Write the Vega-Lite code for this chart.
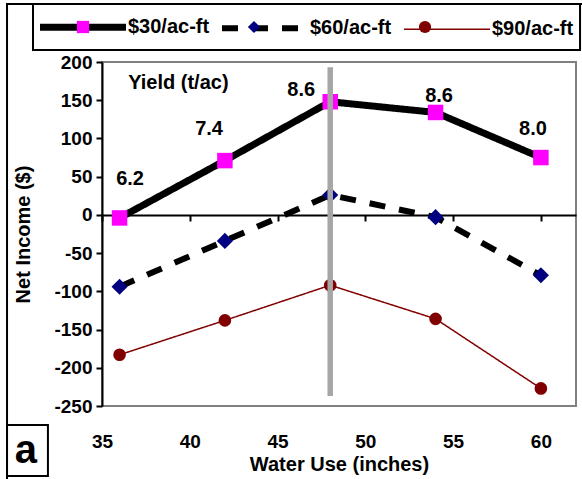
{
  "$schema": "https://vega.github.io/schema/vega-lite/v6.json",
  "width": 474,
  "height": 344,
  "autosize": {"type": "none"},
  "padding": {"left": 102, "top": 62, "right": 6, "bottom": 73},
  "background": "white",
  "config": {
    "font": "Liberation Sans",
    "view": {"stroke": "#808080", "strokeWidth": 2},
    "axis": {
      "labelFont": "Liberation Sans", "titleFont": "Liberation Sans",
      "labelFontWeight": "bold", "titleFontWeight": "bold",
      "labelColor": "black", "titleColor": "black",
      "grid": false, "domain": true, "ticks": true, "domainColor": "black", "tickColor": "black",
      "domainWidth": 2, "tickWidth": 2, "labelFlush": false, "labelOverlap": false
    },
    "axisX": {"offset": -191, "tickSize": 6, "labelPadding": 211, "labelFontSize": 19, "titleFontSize": 20, "titleY": 239, "titleBaseline": "top"},
    "axisY": {"tickSize": 6, "labelPadding": 4, "labelFontSize": 19, "titleFontSize": 20, "titlePadding": 20},
    "legend": {"labelFont": "Liberation Sans", "labelFontWeight": "bold", "labelFontSize": 20, "labelColor": "black"}
  },
  "datasets": {
    "income": [
      {"series": "$30/ac-ft", "water": 36, "income": -4},
      {"series": "$30/ac-ft", "water": 42, "income": 71},
      {"series": "$30/ac-ft", "water": 48, "income": 148},
      {"series": "$30/ac-ft", "water": 54, "income": 134},
      {"series": "$30/ac-ft", "water": 60, "income": 75},
      {"series": "$60/ac-ft", "water": 36, "income": -94},
      {"series": "$60/ac-ft", "water": 42, "income": -34},
      {"series": "$60/ac-ft", "water": 48, "income": 26},
      {"series": "$60/ac-ft", "water": 54, "income": -3},
      {"series": "$60/ac-ft", "water": 60, "income": -79},
      {"series": "$90/ac-ft", "water": 36, "income": -183},
      {"series": "$90/ac-ft", "water": 42, "income": -138},
      {"series": "$90/ac-ft", "water": 48, "income": -92},
      {"series": "$90/ac-ft", "water": 54, "income": -136},
      {"series": "$90/ac-ft", "water": 60, "income": -227}
    ],
    "yields": [
      {"label": "Yield (t/ac)", "water": 39.35, "income": 172},
      {"label": "6.2", "water": 36.6, "income": 47},
      {"label": "7.4", "water": 41.1, "income": 113},
      {"label": "8.6", "water": 46.35, "income": 163},
      {"label": "8.6", "water": 54.2, "income": 155},
      {"label": "8.0", "water": 59.55, "income": 112}
    ]
  },
  "layer": [
    {
      "data": {"name": "income"},
      "mark": {"type": "line", "strokeCap": "butt", "strokeJoin": "miter"},
      "encoding": {
        "x": {
          "field": "water", "type": "quantitative",
          "scale": {"domain": [35, 62], "nice": false, "zero": false},
          "axis": {"title": "Water Use (inches)", "values": [35, 40, 45, 50, 55, 60], "labelOverlap": false}
        },
        "y": {
          "field": "income", "type": "quantitative",
          "scale": {"domain": [-250, 200], "nice": false, "zero": false},
          "axis": {"title": "Net Income ($)", "values": [-250, -200, -150, -100, -50, 0, 50, 100, 150, 200], "labelOverlap": false, "labelExpr": "'' + datum.value"}
        },
        "stroke": {
          "field": "series", "type": "nominal",
          "scale": {"range": ["#000000", "#000000", "#800000"]},
          "legend": {
            "orient": "none", "legendX": -65.5, "legendY": -81.5, "direction": "horizontal",
            "columns": 3, "gridAlign": "all",
            "title": null, "padding": 0, "symbolType": "stroke", "symbolSize": 7396,
            "symbolStrokeWidth": 6, "labelOffset": -1.5, "columnPadding": 0,
            "encode": {"symbols": {"update": {"strokeWidth": {"signal": "(datum.value === '$90/ac-ft' ? 1.5 : (datum.value === '$60/ac-ft' ? 6 : 7))"}}}}
          }
        },
        "strokeDash": {
          "field": "series", "type": "nominal",
          "scale": {"range": [[1, 0], [16, 14], [1, 0]]}
        },
        "strokeWidth": {
          "condition": [
            {"test": "datum.series === '$90/ac-ft'", "value": 1.5},
            {"test": "datum.series === '$60/ac-ft'", "value": 6}
          ],
          "value": 7
        }
      }
    },
    {
      "data": {"values": [{}]},
      "mark": {"type": "rect", "fillOpacity": 0, "fill": "white", "stroke": "black", "strokeWidth": 2, "clip": false},
      "encoding": {
        "x": {"datum": 29.59, "type": "quantitative", "axis": {"title": "Water Use (inches)", "values": [35, 40, 45, 50, 55, 60], "labelOverlap": false}},
        "x2": {"datum": 62.6},
        "y": {"datum": 275.9, "type": "quantitative", "axis": {"title": "Net Income ($)", "values": [-250, -200, -150, -100, -50, 0, 50, 100, 150, 200], "labelOverlap": false, "labelExpr": "'' + datum.value"}},
        "y2": {"datum": -360}
      }
    },
    {
      "data": {"values": [{}]},
      "mark": {"type": "rect", "fillOpacity": 0, "fill": "white", "stroke": "black", "strokeWidth": 2, "clip": false},
      "encoding": {
        "x": {"datum": 31.07, "type": "quantitative", "axis": {"title": "Water Use (inches)", "values": [35, 40, 45, 50, 55, 60], "labelOverlap": false}},
        "x2": {"datum": 62.23},
        "y": {"datum": 275.9, "type": "quantitative", "axis": {"title": "Net Income ($)", "values": [-250, -200, -150, -100, -50, 0, 50, 100, 150, 200], "labelOverlap": false, "labelExpr": "'' + datum.value"}},
        "y2": {"datum": 215.7}
      }
    },
    {
      "data": {"values": [{}]},
      "mark": {"type": "rect", "fillOpacity": 0, "fill": "white", "stroke": "black", "strokeWidth": 2, "clip": false},
      "encoding": {
        "x": {"datum": 29.59, "type": "quantitative", "axis": {"title": "Water Use (inches)", "values": [35, 40, 45, 50, 55, 60], "labelOverlap": false}},
        "x2": {"datum": 31.92},
        "y": {"datum": -274.9, "type": "quantitative", "axis": {"title": "Net Income ($)", "values": [-250, -200, -150, -100, -50, 0, 50, 100, 150, 200], "labelOverlap": false, "labelExpr": "'' + datum.value"}},
        "y2": {"datum": -341.6}
      }
    },
    {
      "data": {"values": [{}]},
      "mark": {"type": "text", "text": "a", "font": "Liberation Sans", "fontWeight": "bold", "fontSize": 40, "color": "black", "align": "center", "baseline": "alphabetic", "clip": false},
      "encoding": {
        "x": {"datum": 30.67, "type": "quantitative", "axis": {"title": "Water Use (inches)", "values": [35, 40, 45, 50, 55, 60], "labelOverlap": false}},
        "y": {"datum": -324.6, "type": "quantitative", "axis": {"title": "Net Income ($)", "values": [-250, -200, -150, -100, -50, 0, 50, 100, 150, 200], "labelOverlap": false, "labelExpr": "'' + datum.value"}}
      }
    },
    {
      "data": {"name": "income"},
      "mark": {"type": "point", "filled": true, "opacity": 1},
      "encoding": {
        "x": {"field": "water", "type": "quantitative", "axis": {"title": "Water Use (inches)", "values": [35, 40, 45, 50, 55, 60], "labelOverlap": false}},
        "y": {"field": "income", "type": "quantitative", "axis": {"title": "Net Income ($)", "values": [-250, -200, -150, -100, -50, 0, 50, 100, 150, 200], "labelOverlap": false, "labelExpr": "'' + datum.value"}},
        "fill": {
          "field": "series", "type": "nominal",
          "scale": {"domain": ["$30/ac-ft", "$60/ac-ft", "$90/ac-ft"], "range": ["#ff00ff", "#000080", "#800000"]},
          "legend": {
            "orient": "none", "legendX": -29, "legendY": -45, "direction": "horizontal",
            "columns": 3, "gridAlign": "all",
            "title": null, "padding": 0, "symbolSize": 150, "symbolStrokeWidth": 0,
            "labelOffset": 0, "columnPadding": 151, "labelExpr": "''"
          }
        },
        "shape": {
          "field": "series", "type": "nominal",
          "scale": {"domain": ["$30/ac-ft", "$60/ac-ft", "$90/ac-ft"], "range": ["square", "diamond", "circle"]}
        },
        "size": {
          "condition": [
            {"test": "datum.series === '$90/ac-ft'", "value": 160},
            {"test": "datum.series === '$60/ac-ft'", "value": 260}
          ],
          "value": 240
        }
      }
    },
    {
      "data": {"values": [{}]},
      "mark": {"type": "rule", "color": "#a6a6a6", "strokeWidth": 5.5},
      "encoding": {
        "x": {"datum": 48, "type": "quantitative", "axis": {"title": "Water Use (inches)", "values": [35, 40, 45, 50, 55, 60], "labelOverlap": false}},
        "y": {"datum": 193, "type": "quantitative", "axis": {"title": "Net Income ($)", "values": [-250, -200, -150, -100, -50, 0, 50, 100, 150, 200], "labelOverlap": false, "labelExpr": "'' + datum.value"}},
        "y2": {"datum": -237}
      }
    },
    {
      "data": {"name": "yields"},
      "mark": {"type": "text", "font": "Liberation Sans", "fontWeight": "bold", "fontSize": 20, "color": "black", "align": "center", "baseline": "middle"},
      "encoding": {
        "x": {"field": "water", "type": "quantitative", "axis": {"title": "Water Use (inches)", "values": [35, 40, 45, 50, 55, 60], "labelOverlap": false}},
        "y": {"field": "income", "type": "quantitative", "axis": {"title": "Net Income ($)", "values": [-250, -200, -150, -100, -50, 0, 50, 100, 150, 200], "labelOverlap": false, "labelExpr": "'' + datum.value"}},
        "text": {"field": "label"}
      }
    }
  ]
}
